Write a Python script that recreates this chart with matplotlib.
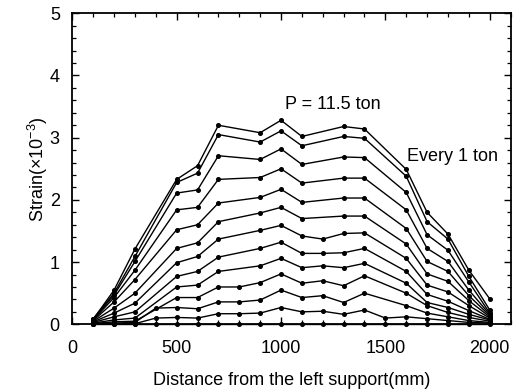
import numpy as np
import matplotlib
matplotlib.use('Agg')
import matplotlib.pyplot as plt
from matplotlib.ticker import MultipleLocator

plt.rcParams['font.family'] = ['Liberation Sans', 'DejaVu Sans']
plt.rcParams['mathtext.fontset'] = 'custom'
plt.rcParams['mathtext.rm'] = 'Liberation Sans'
plt.rcParams['mathtext.it'] = 'Liberation Sans:italic'

nan = np.nan
distance = [100, 200, 300, 400, 500, 600, 700, 800, 900, 1000,
            1100, 1200, 1300, 1400, 1500, 1600, 1700, 1800, 1900, 2000]

load_11_5 = [0.08, 0.55, 1.21, nan, 2.33, 2.55, 3.20, nan, 3.08, 3.28,
             3.02, nan, 3.18, 3.14, nan, 2.49, 1.80, 1.45, 0.87, 0.41]
load_11 = [0.09, 0.50, 1.09, nan, 2.28, 2.43, 3.05, nan, 2.93, 3.11,
           2.87, nan, 3.02, 2.99, nan, 2.38, 1.65, 1.37, 0.77, 0.23]
load_10 = [0.08, 0.47, 1.01, nan, 2.11, 2.16, 2.71, nan, 2.65, 2.82,
           2.57, nan, 2.69, 2.68, nan, 2.12, 1.44, 1.19, 0.68, 0.18]
load_9 = [0.07, 0.43, 0.87, nan, 1.84, 1.88, 2.33, nan, 2.36, 2.50,
          2.27, nan, 2.35, 2.35, nan, 1.84, 1.22, 1.01, 0.55, 0.16]
load_8 = [0.06, 0.36, 0.72, nan, 1.52, 1.60, 1.95, nan, 2.04, 2.17,
          1.96, nan, 2.03, 2.03, nan, 1.54, 1.01, 0.85, 0.46, 0.14]
load_7 = [0.05, 0.26, 0.50, nan, 1.22, 1.31, 1.65, nan, 1.79, 1.88,
          1.70, nan, 1.74, 1.74, nan, 1.29, 0.81, 0.69, 0.38, 0.12]
load_6 = [0.04, 0.18, 0.34, nan, 0.99, 1.09, 1.37, nan, 1.51, 1.59,
          1.42, 1.37, 1.46, 1.47, nan, 1.06, 0.63, 0.52, 0.30, 0.10]
load_5 = [0.03, 0.12, 0.20, nan, 0.77, 0.85, 1.08, nan, 1.22, 1.32,
          1.14, 1.14, 1.15, 1.22, nan, 0.85, 0.48, 0.37, 0.22, 0.08]
load_4 = [0.02, 0.07, 0.10, nan, 0.60, 0.63, 0.85, nan, 0.94, 1.06,
          0.91, 0.94, 0.91, 0.98, nan, 0.66, 0.35, 0.27, 0.16, 0.07]
load_3 = [0.01, 0.04, 0.05, nan, 0.43, 0.43, 0.60, 0.60, 0.67, 0.81,
          0.66, 0.70, 0.62, 0.78, nan, 0.50, 0.30, 0.19, 0.11, 0.05]
load_2 = [0.01, 0.02, 0.03, 0.26, 0.27, 0.25, 0.36, 0.36, 0.39, 0.55,
          0.43, 0.46, 0.35, 0.50, nan, 0.30, 0.18, 0.12, 0.06, 0.03]
load_1 = [0.01, 0.01, 0.01, 0.10, 0.11, 0.10, 0.17, 0.17, 0.18, 0.27,
          0.20, 0.21, 0.16, 0.23, 0.10, 0.12, 0.09, 0.06, 0.03, 0.02]
load_0 = [0.00, 0.00, 0.00, 0.00, 0.00, 0.00, 0.00, 0.00, 0.00, 0.00,
          0.00, 0.00, 0.00, 0.00, 0.00, 0.00, 0.00, 0.00, 0.00, 0.00]

series = [load_11_5, load_11, load_10, load_9, load_8, load_7, load_6,
          load_5, load_4, load_3, load_2, load_1, load_0]

x_ticks = [0, 500, 1000, 1500, 2000]
y_ticks = [0, 1, 2, 3, 4, 5]

fig = plt.figure(figsize=(5.28, 3.91), dpi=100)
ax = fig.add_axes([0.137, 0.1706, 0.830, 0.7954])

xd = np.array(distance, dtype=float)
for s in series:
    arr = np.array(s, dtype=float)
    m = ~np.isnan(arr)
    ax.plot(xd[m], arr[m], '-o', color='black', lw=1.0, ms=2.6,
            clip_on=False, zorder=3)

ax.set_xlim(0, 2100)
ax.set_ylim(0, 5)
ax.set_xticks(x_ticks)
ax.set_yticks(y_ticks)
ax.xaxis.set_minor_locator(MultipleLocator(100))
ax.yaxis.set_minor_locator(MultipleLocator(0.2))
ax.tick_params(which='both', direction='in', top=True, right=True,
               labelsize=13, color='black')
ax.tick_params(which='major', length=5, width=1.0)
ax.tick_params(which='minor', length=2.6, width=0.9)
ax.tick_params(axis='x', which='major', pad=11)
ax.tick_params(axis='y', which='major', pad=9)
for sp in ax.spines.values():
    sp.set_linewidth(1.3)

ax.set_xlabel('Distance from the left support(mm)', fontsize=13, labelpad=11)
ax.set_ylabel(r'Strain($\times$10$^{-3}$)', fontsize=13, labelpad=0)

ax.text(1247, 3.53, 'P = 11.5 ton', fontsize=13, ha='center', va='center')
ax.text(1823, 2.69, 'Every 1 ton', fontsize=13, ha='center', va='center')

fig.savefig('out.png', dpi=100)
